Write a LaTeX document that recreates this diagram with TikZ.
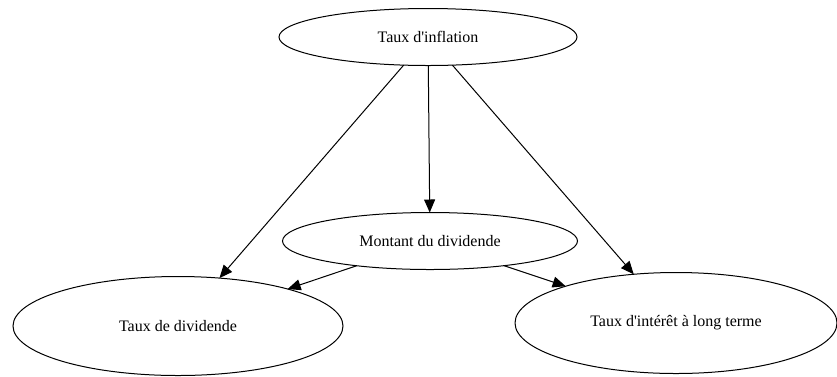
\documentclass[tikz,border=0pt]{standalone}
\usepackage{fontspec}
\setmainfont{Liberation Serif}
\usetikzlibrary{shapes.geometric,arrows.meta}

\tikzset{
  facteur/.style={ellipse, draw, line width=1pt, inner sep=0pt, outer sep=0pt,
    font=\fontsize{16}{19}\selectfont},
  fleche/.style={line width=1pt, -{Triangle[length=13pt,width=11pt]}}
}

\begin{document}
\begin{tikzpicture}[x=1pt,y=-1pt]
 \useasboundingbox (0,0) rectangle (837,376);

 % Cause commune en haut
 \node[facteur, minimum width=298pt, minimum height=57pt] (inflation) at (428,37) {Taux d\textquotesingle inflation};
 \node[facteur, minimum width=295pt, minimum height=57pt] (montant) at (430,241) {Montant du dividende};

 % Les deux effets en bas
 \node[facteur, minimum width=330pt, minimum height=99pt] (dividende) at (178,326) {Taux de dividende};
 \node[facteur, minimum width=322pt, minimum height=101pt] (interet) at (676,323) {Taux d\textquotesingle intérêt à long terme};

 \draw[fleche] (inflation) -- (dividende);
 \draw[fleche] (inflation) -- (montant);
 \draw[fleche] (inflation) -- (interet);

 \draw[fleche] (montant) -- (dividende);
 \draw[fleche] (montant) -- (interet);

\end{tikzpicture}
\end{document}
